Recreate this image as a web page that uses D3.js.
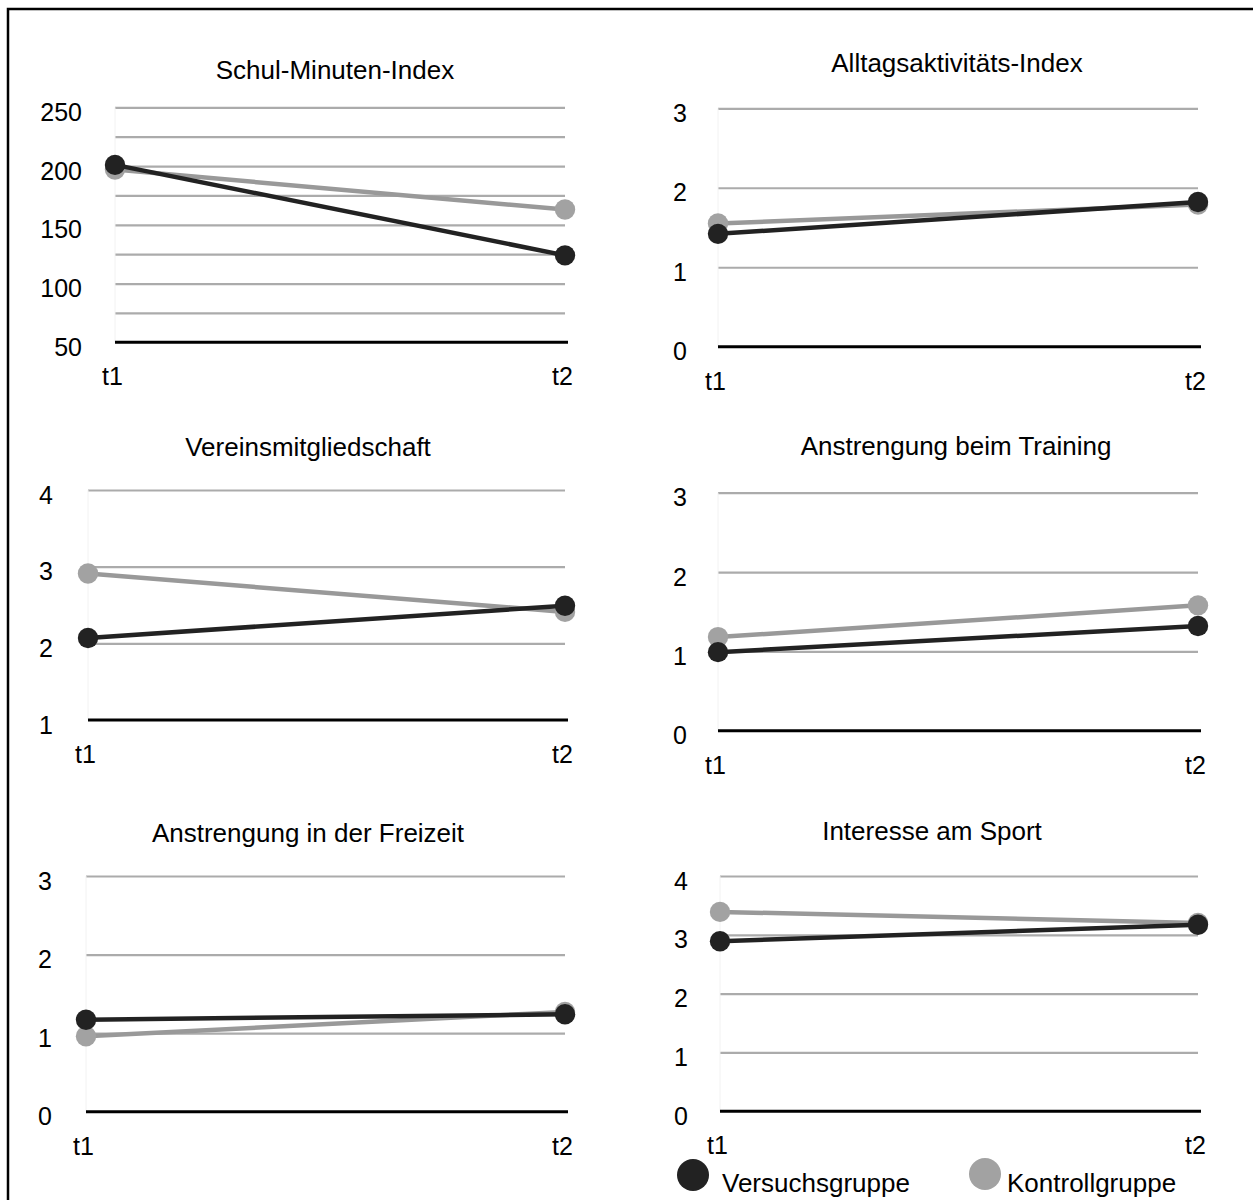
<!DOCTYPE html>
<html>
<head>
<meta charset="utf-8">
<script src="https://cdn.jsdelivr.net/npm/d3@7/dist/d3.min.js"></script>
<style>
  html, body { margin: 0; padding: 0; background: #fff; }
  svg { display: block; font-family: "Liberation Sans", Arial, Helvetica, sans-serif; }
</style>
</head>
<body>
<svg id="chart" width="1253" height="1200"></svg>
<script>
// Messzeitpunkte
const categories = ["t1", "t2"];

// Panel titles
const titles = [
  "Schul-Minuten-Index",
  "Alltagsaktivitäts-Index",
  "Vereinsmitgliedschaft",
  "Anstrengung beim Training",
  "Anstrengung in der Freizeit",
  "Interesse am Sport"
];

// Mittelwerte je Gruppe (t1, t2)
const versuchsgruppe = [
  [201, 124],
  [1.42, 1.82],
  [2.07, 2.49],
  [0.99, 1.32],
  [1.17, 1.24],
  [2.89, 3.17]
];
const kontrollgruppe = [
  [197, 163],
  [1.55, 1.79],
  [2.91, 2.41],
  [1.18, 1.58],
  [0.96, 1.27],
  [3.39, 3.20]
];

// Value axes: domain, labelled ticks, grid ticks
const yDomains = [[50, 250], [0, 3], [1, 4], [0, 3], [0, 3], [0, 4]];
const yTickLabels = [
  [50, 100, 150, 200, 250],
  [0, 1, 2, 3],
  [1, 2, 3, 4],
  [0, 1, 2, 3],
  [0, 1, 2, 3],
  [0, 1, 2, 3, 4]
];
const yGridTicks = [
  [50, 75, 100, 125, 150, 175, 200, 225, 250],
  [0, 1, 2, 3],
  [1, 2, 3, 4],
  [0, 1, 2, 3],
  [0, 1, 2, 3],
  [0, 1, 2, 3, 4]
];

const legendLabels = ["Versuchsgruppe", "Kontrollgruppe"];

// Panel geometry (pixels)
const layout = [
  { x0: 115, x1: 565, yBottom: 342.3, yTop: 107.3, labelRight: 82,  titleX: 335, titleY: 79 },
  { x0: 718, x1: 1198, yBottom: 346.7, yTop: 108.3, labelRight: 687, titleX: 957, titleY: 71.5 },
  { x0: 88,  x1: 565, yBottom: 720,   yTop: 490,   labelRight: 53,  titleX: 308, titleY: 456 },
  { x0: 718, x1: 1198, yBottom: 730.7, yTop: 492.7, labelRight: 687, titleX: 956, titleY: 455 },
  { x0: 86,  x1: 565, yBottom: 1111.7, yTop: 876,  labelRight: 52,  titleX: 308, titleY: 841.5 },
  { x0: 720, x1: 1198, yBottom: 1111.3, yTop: 876, labelRight: 688, titleX: 932, titleY: 840 }
];

const DARK = "#222222";
const GREY_LINE = "#999999";
const GREY_DOT = "#a2a2a2";
const GRID = "#ababab";
const TEXT = "#000";

const svg = d3.select("#chart");

// Frame on the left and top edge
svg.append("path")
  .attr("d", "M8,1200 L8,9 L1253,9")
  .attr("fill", "none")
  .attr("stroke", "#000")
  .attr("stroke-width", 2.5);

titles.forEach((title, i) => {
  const L = layout[i];
  const g = svg.append("g");

  const x = d3.scalePoint().domain(categories).range([L.x0, L.x1]);
  const y = d3.scaleLinear().domain(yDomains[i]).range([L.yBottom, L.yTop]);

  // Title
  g.append("text")
    .attr("x", L.titleX)
    .attr("y", L.titleY)
    .attr("text-anchor", "middle")
    .attr("font-size", 26)
    .attr("fill", TEXT)
    .text(title);

  // Horizontal gridlines
  const gridAxis = d3.axisLeft(y)
    .tickValues(yGridTicks[i])
    .tickSizeInner(-(L.x1 - L.x0))
    .tickSizeOuter(0)
    .tickFormat("");
  const gridG = g.append("g")
    .attr("transform", `translate(${L.x0},0)`)
    .call(gridAxis);
  gridG.select(".domain").remove();
  gridG.selectAll(".tick line")
    .attr("stroke", GRID)
    .attr("stroke-width", 2.2);
  // lowest line is the axis baseline
  gridG.selectAll(".tick")
    .filter(d => d === yDomains[i][0])
    .remove();

  // Faint left edge of plot area
  g.append("line")
    .attr("x1", L.x0).attr("x2", L.x0)
    .attr("y1", y(yDomains[i][1])).attr("y2", y(yDomains[i][0]))
    .attr("stroke", "#f2f2f2")
    .attr("stroke-width", 1);

  // Baseline
  g.append("line")
    .attr("x1", L.x0).attr("x2", L.x1 + 3)
    .attr("y1", y(yDomains[i][0])).attr("y2", y(yDomains[i][0]))
    .attr("stroke", "#000")
    .attr("stroke-width", 3);

  // Value labels
  const labelAxis = d3.axisLeft(y)
    .tickValues(yTickLabels[i])
    .tickSize(0)
    .tickPadding(L.x0 - L.labelRight)
    .tickFormat(d3.format("d"));
  const labG = g.append("g")
    .attr("transform", `translate(${L.x0},0)`)
    .call(labelAxis);
  labG.select(".domain").remove();
  labG.selectAll(".tick text")
    .attr("dy", "0.52em")
    .attr("font-size", 25)
    .attr("font-family", "Liberation Sans, Arial, sans-serif")
    .attr("fill", TEXT);

  // Time point labels
  const xAxis = d3.axisBottom(x).tickSize(0).tickPadding(0);
  const xG = g.append("g")
    .attr("transform", `translate(0,${y(yDomains[i][0])})`)
    .call(xAxis);
  xG.select(".domain").remove();
  xG.selectAll(".tick text")
    .attr("y", 43)
    .attr("dy", 0)
    .attr("dx", -3)
    .attr("font-size", 25)
    .attr("font-family", "Liberation Sans, Arial, sans-serif")
    .attr("fill", TEXT);

  // Series: Kontrollgruppe underneath, Versuchsgruppe on top
  const line = d3.line().x((d, k) => x(categories[k])).y(d => y(d));
  const series = [
    { values: kontrollgruppe[i], stroke: GREY_LINE, dot: GREY_DOT },
    { values: versuchsgruppe[i], stroke: DARK, dot: DARK }
  ];
  series.forEach(s => {
    g.append("path")
      .datum(s.values)
      .attr("d", line)
      .attr("fill", "none")
      .attr("stroke", s.stroke)
      .attr("stroke-width", 4.5);
    g.selectAll(null)
      .data(s.values)
      .join("circle")
      .attr("cx", (d, k) => x(categories[k]))
      .attr("cy", d => y(d))
      .attr("r", 10.2)
      .attr("fill", s.dot);
  });
});

// Legend
const legendPos = [
  { cx: 693, cy: 1175, tx: 722 },
  { cx: 985, cy: 1174, tx: 1007 }
];
const legendColors = [DARK, GREY_DOT];
const lg = svg.append("g");
legendLabels.forEach((lab, k) => {
  lg.append("circle")
    .attr("cx", legendPos[k].cx)
    .attr("cy", legendPos[k].cy)
    .attr("r", 16)
    .attr("fill", legendColors[k]);
  lg.append("text")
    .attr("x", legendPos[k].tx)
    .attr("y", 1192)
    .attr("font-size", 26)
    .attr("fill", TEXT)
    .text(lab);
});
</script>
</body>
</html>
